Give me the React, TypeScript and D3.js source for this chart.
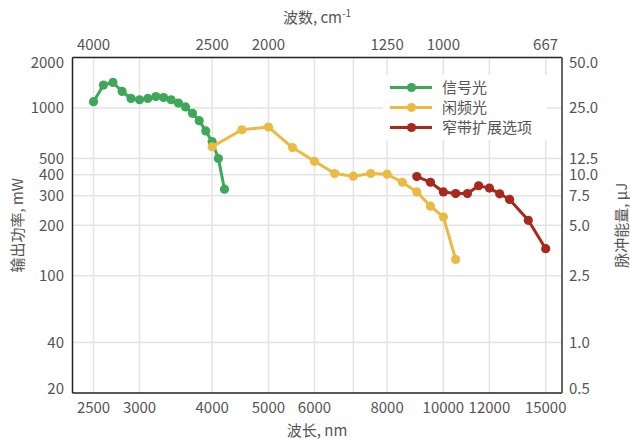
import React from 'react';
import * as d3 from 'd3';

const width = 630;
const height = 439;
const margin = { top: 57.5, left: 72.5, right: 68, bottom: 46 };

// wavelength (nm) / output power (mW)
const signalWl = [2500, 2600, 2700, 2800, 2900, 3000, 3100, 3200, 3300, 3400, 3500, 3600, 3700, 3800, 3900, 4000, 4100, 4200];
const signalMw = [1090, 1370, 1420, 1255, 1140, 1120, 1140, 1170, 1155, 1120, 1070, 1015, 930, 840, 730, 630, 500, 328];

const idlerWl = [4000, 4500, 5000, 5500, 6000, 6500, 7000, 7500, 8000, 8500, 9000, 9500, 10000, 10500];
const idlerMw = [587, 742, 770, 581, 481, 407, 392, 407, 403, 361, 316, 260, 224, 125];

const narrowWl = [9000, 9500, 10000, 10500, 11000, 11500, 12000, 12500, 13000, 14000, 15000];
const narrowMw = [390, 361, 316, 309, 309, 344, 333, 308, 285, 214, 145];

const seriesNames = ['信号光', '闲频光', '窄带扩展选项'];
const seriesColors = ['#3da75a', '#ebba42', '#a8281e'];

const xTicks = [2500, 3000, 4000, 5000, 6000, 8000, 10000, 12000, 15000];
const xGrid = [2500, 3000, 4000, 5000, 6000, 7000, 8000, 10000, 12000, 15000];
const topTicks = [4000, 2500, 2000, 1250, 1000, 667]; // cm-1
const yTicks = [2000, 1000, 500, 400, 300, 200, 100, 40, 20];
const yGrid = [1000, 500, 400, 300, 200, 100, 40];
const rightTicks = ['50.0', '25.0', '12.5', '10.0', '7.5', '5.0', '2.5', '1.0', '0.5'];

const font = '"Noto Sans CJK SC", "Noto Sans", sans-serif';
const textColor = '#555';

export default function App() {
  const x = d3.scaleLog().domain([2300, 16000]).range([margin.left, width - margin.right]);
  const y = d3.scaleLog().domain([20, 2000]).range([height - margin.bottom, margin.top]);
  const line = d3.line<[number, number]>().x(d => x(d[0])).y(d => y(d[1]));

  const series = [
    signalWl.map((w, i) => [w, signalMw[i]] as [number, number]),
    idlerWl.map((w, i) => [w, idlerMw[i]] as [number, number]),
    narrowWl.map((w, i) => [w, narrowMw[i]] as [number, number]),
  ];

  const [x0, x1] = x.range();
  const [y0, y1] = y.range();
  const labelY = (v: number) => Math.min(Math.max(y(v), 63), 389);

  const legendX = 390;
  const legendY = 87.5;
  const legendGap = 20;

  return (
    <svg width={width} height={height} style={{ position: 'absolute', left: 0, top: 0, background: '#fff' }} fontFamily={font}>
      {/* grid */}
      <g stroke="#e3e3e3" strokeWidth={1.5}>
        {xGrid.map(t => <line key={'gx' + t} x1={x(t)} x2={x(t)} y1={y1} y2={y0} />)}
        {yGrid.map(t => <line key={'gy' + t} x1={x0} x2={x1} y1={y(t)} y2={y(t)} />)}
      </g>

      {/* legend background */}
      <rect x={383} y={75} width={164} height={65} fill="#fff" />

      {/* series */}
      {series.map((s, i) => (
        <g key={i}>
          <path d={line(s) || ''} fill="none" stroke={seriesColors[i]} strokeWidth={3} strokeLinejoin="round" />
          {s.map((d, j) => <circle key={j} cx={x(d[0])} cy={y(d[1])} r={4.6} fill={seriesColors[i]} />)}
        </g>
      ))}

      {/* frame */}
      <line x1={x0} x2={x1} y1={y1} y2={y1} stroke="#222" strokeWidth={1.5} />
      <line x1={x0} x2={x1} y1={y0} y2={y0} stroke="#222" strokeWidth={1.5} />
      <line x1={x0} x2={x0} y1={y1} y2={y0} stroke="#222" strokeWidth={1.5} />
      <line x1={x1} x2={x1} y1={y1} y2={y0} stroke="#666" strokeWidth={2} />

      {/* tick labels */}
      <g fill={textColor} fontSize={15}>
        {xTicks.map(t => (
          <text key={'xt' + t} x={x(t)} y={413} textAnchor="middle">{t}</text>
        ))}
        {topTicks.map(t => (
          <text key={'tt' + t} x={x(1e7 / t)} y={49.5} textAnchor="middle">{t}</text>
        ))}
        {yTicks.map(t => (
          <text key={'yt' + t} x={64} y={labelY(t)} dy="0.35em" textAnchor="end">{t}</text>
        ))}
        {rightTicks.map((t, i) => (
          <text key={'rt' + t} x={569} y={labelY(yTicks[i])} dy="0.35em" textAnchor="start">{t}</text>
        ))}
      </g>

      {/* axis titles */}
      <g fill={textColor} fontSize={15}>
        <text x={317} y={23} textAnchor="middle">
          波数, cm<tspan fontSize={10} dy={-6}>-1</tspan>
        </text>
        <text x={317} y={436} textAnchor="middle">波长, nm</text>
        <text transform={`translate(23,${(y0 + y1) / 2}) rotate(-90)`} textAnchor="middle">输出功率, mW</text>
        <text transform={`translate(627,${(y0 + y1) / 2}) rotate(-90)`} textAnchor="middle">脉冲能量, µJ</text>
      </g>

      {/* legend */}
      <g fontSize={15} fill={textColor}>
        {seriesNames.map((name, i) => (
          <g key={name} transform={`translate(${legendX},${legendY + i * legendGap})`}>
            <line x1={0} x2={42} y1={0} y2={0} stroke={seriesColors[i]} strokeWidth={3} />
            <circle cx={21.5} cy={0} r={4.6} fill={seriesColors[i]} />
            <text x={52} y={0} dy="0.35em">{name}</text>
          </g>
        ))}
      </g>
    </svg>
  );
}
